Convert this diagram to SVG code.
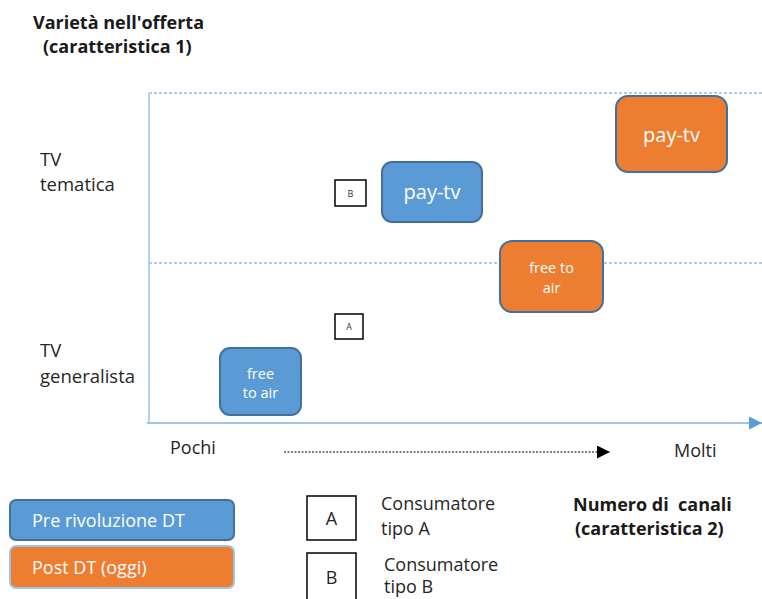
<svg xmlns="http://www.w3.org/2000/svg" width="762" height="599" viewBox="0 0 762 599">
<defs>
<marker id="axisHead" viewBox="0 0 10 10" refX="10" refY="5" markerWidth="13" markerHeight="13" markerUnits="userSpaceOnUse" orient="auto"><path d="M0,0 L10,5 L0,10 z" fill="#5B9BD5"/></marker>
<marker id="blackHead" viewBox="0 0 10 10" refX="10" refY="5" markerWidth="13" markerHeight="13" markerUnits="userSpaceOnUse" orient="auto"><path d="M0,0 L10,5 L0,10 z" fill="#000"/></marker>
</defs>
<style>
text{font-family:"Open Sans","Liberation Sans",sans-serif;}
.lbl{font-size:18px;fill:#262626;}
.row{font-size:18.5px;fill:#262626;}
.bold{font-size:18px;font-weight:bold;fill:#1a1a1a;}
.blue{fill:#5B9BD5;stroke:#41719C;stroke-width:2;}
.orange{fill:#ED7D31;stroke:#41719C;stroke-width:2;}
.wt{fill:#ffffff;text-anchor:middle;}
.sq{fill:#fff;stroke:#000;stroke-width:1.5;}
.dash{stroke:#5B9BD5;stroke-width:1;stroke-dasharray:3,2;fill:none;}
</style>
<rect width="762" height="599" fill="#fff"/>
<g id="title-y">
<text class="bold" x="33" y="29">Varietà nell'offerta</text>
<text class="bold" x="43" y="53">(caratteristica 1)</text>
</g>
<g id="row-labels">
<text class="row" x="40" y="166">TV</text>
<text class="row" x="40" y="191">tematica</text>
<text class="row" x="40" y="357">TV</text>
<text class="row" x="40" y="383">generalista</text>
</g>
<g id="connectors">
<line class="dash" x1="149" y1="93" x2="762" y2="93"/>
<line class="dash" x1="149" y1="263" x2="762" y2="263"/>
<line x1="149" y1="93" x2="149" y2="423" stroke="#9DC3E6" stroke-width="1.5"/>
<line x1="147" y1="423" x2="762" y2="423" stroke="#9DC3E6" stroke-width="2" marker-end="url(#axisHead)"/>
<line x1="284" y1="452" x2="610" y2="452" stroke="#000" stroke-width="1" stroke-dasharray="2,1.5" marker-end="url(#blackHead)"/>
</g>
<g id="pay-tv-pre">
<rect class="blue" x="382" y="162" width="100" height="60" rx="10"/>
<text class="wt" x="432" y="199" font-size="20">pay-tv</text>
</g>
<g id="pay-tv-post">
<rect class="orange" x="616" y="96" width="111" height="76" rx="12"/>
<text class="wt" x="671.5" y="142" font-size="20">pay-tv</text>
</g>
<g id="fta-post">
<rect class="orange" x="500" y="241" width="103" height="71" rx="12"/>
<text class="wt" x="551.5" y="273" font-size="14.5">free to</text>
<text class="wt" x="551.5" y="293" font-size="14.5">air</text>
</g>
<g id="fta-pre">
<rect class="blue" x="220" y="348" width="81" height="67" rx="10"/>
<text class="wt" x="260.5" y="379" font-size="14.5">free</text>
<text class="wt" x="260.5" y="398" font-size="14.5">to air</text>
</g>
<g id="consumer-b">
<rect class="sq" x="335" y="180" width="31" height="26"/>
<text x="350.5" y="197" font-size="9" fill="#333" text-anchor="middle">B</text>
</g>
<g id="consumer-a">
<rect class="sq" x="335" y="314" width="28" height="25"/>
<text x="349" y="330" font-size="9" fill="#333" text-anchor="middle">A</text>
</g>
<g id="axis-labels">
<text class="lbl" x="170" y="454">Pochi</text>
<text class="lbl" x="674" y="457">Molti</text>
<text class="bold" x="573" y="511" style="white-space:pre">Numero di  canali</text>
<text class="bold" x="575" y="535">(caratteristica 2)</text>
</g>
<g id="legend-pre">
<rect class="blue" x="10" y="500" width="224" height="40" rx="6"/>
<text x="32" y="527" font-size="18" fill="#fff">Pre rivoluzione DT</text>
</g>
<g id="legend-post">
<rect class="orange" x="10" y="546" width="224" height="42" rx="6" style="stroke:#9DC3E6"/>
<text x="32" y="574" font-size="18" fill="#fff">Post DT (oggi)</text>
</g>
<g id="legend-a">
<rect class="sq" x="307" y="496" width="49" height="44"/>
<text x="331.5" y="525" font-size="18" fill="#262626" text-anchor="middle">A</text>
<text class="lbl" x="381" y="510">Consumatore</text>
<text class="lbl" x="381" y="535">tipo A</text>
</g>
<g id="legend-b">
<rect class="sq" x="307" y="553" width="49" height="50"/>
<text x="331.5" y="584" font-size="18" fill="#262626" text-anchor="middle">B</text>
<text class="lbl" x="384" y="571">Consumatore</text>
<text class="lbl" x="384" y="593">tipo B</text>
</g>
</svg>
